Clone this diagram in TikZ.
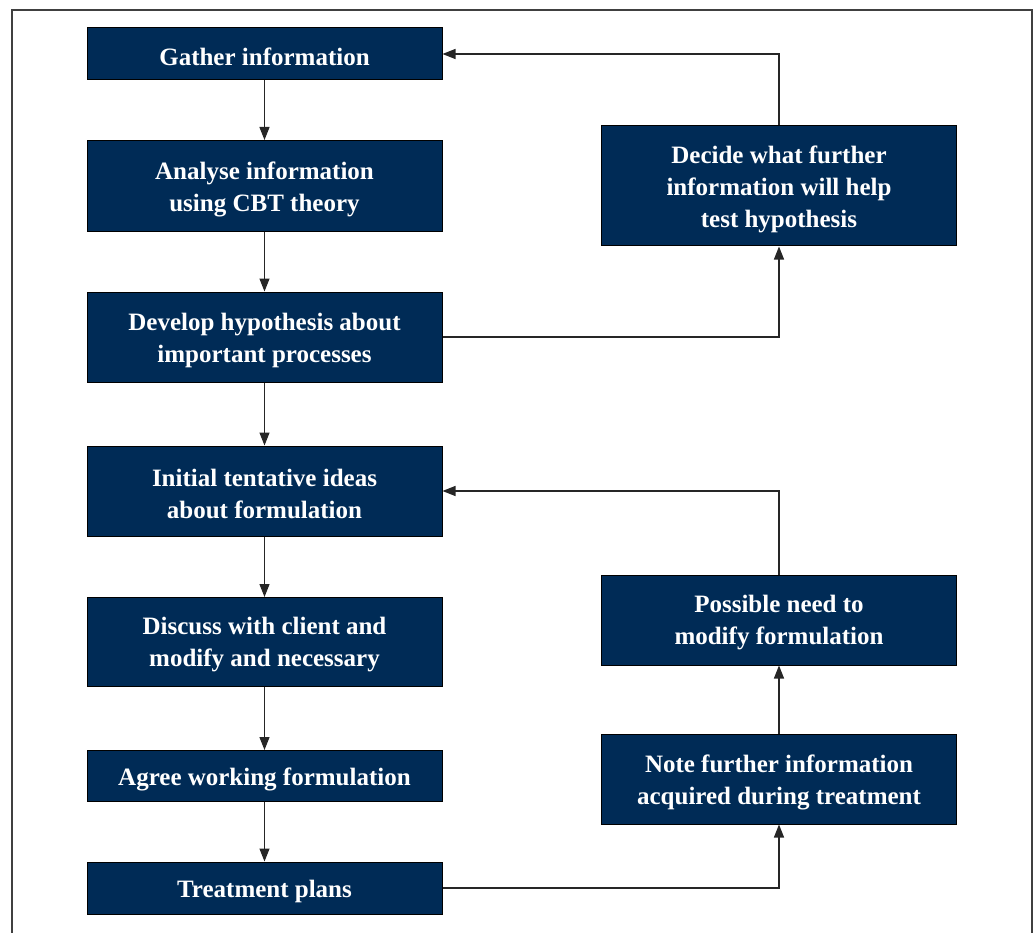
\documentclass[tikz,border=0pt]{standalone}
\usepackage{fontspec}
\setmainfont{Liberation Serif}
\usetikzlibrary{arrows.meta}
\definecolor{navy}{RGB}{0,43,86}
\begin{document}
\begin{tikzpicture}[x=1pt,y=-1pt,
 box/.style={draw=black,line width=1pt,fill=navy,inner sep=0pt,minimum width=355pt},
 txt/.style={text=white,font=\fontsize{25}{32}\selectfont\bfseries,align=center,inner sep=0pt},
 conn/.style={draw=black!85,line width=1.2pt,-{Triangle[length=13pt,width=10pt]}}]
\useasboundingbox (0,0) rectangle (1035,933);
\draw[black!75,line width=1.2pt] (12,933) -- (12,10) -- (1032,10) -- (1032,933);
\node[box,minimum height=52pt] (g) at (264.5,54) {};
\node[box,minimum height=91pt] (a) at (264.5,186) {};
\node[box,minimum height=90pt] (d) at (264.5,337) {};
\node[box,minimum height=90pt] (i) at (264.5,491) {};
\node[box,minimum height=89pt] (c) at (264.5,642) {};
\node[box,minimum height=51pt] (w) at (264.5,776) {};
\node[box,minimum height=52pt] (t) at (264.5,888) {};
\node[box,minimum height=120pt] (dec) at (779,186) {};
\node[box,minimum height=90pt] (p) at (779,620) {};
\node[box,minimum height=90pt] (n) at (779,779) {};
\node[txt] (gt) at ([yshift=-3pt]g.center) {Gather information};
\node[txt] (at) at ([yshift=-3pt]a.center) {Analyse information\\using CBT theory};
\node[txt] (dt) at ([yshift=-3pt]d.center) {Develop hypothesis about\\important processes};
\node[txt] (it) at ([yshift=-3pt]i.center) {Initial tentative ideas\\about formulation};
\node[txt] (ct) at ([yshift=-3pt]c.center) {Discuss with client and\\modify and necessary};
\node[txt] (wt) at ([yshift=-3pt]w.center) {Agree working formulation};
\node[txt] (tt) at ([yshift=-3pt]t.center) {Treatment plans};
\node[txt] (dect) at ([yshift=-3pt]dec.center) {Decide what further\\information will help\\test hypothesis};
\node[txt] (pt) at ([yshift=-3pt]p.center) {Possible need to\\modify formulation};
\node[txt] (nt) at ([yshift=-3pt]n.center) {Note further information\\acquired during treatment};
\draw[conn] (g) -- (a);
\draw[conn] (a) -- (d);
\draw[conn] (d) -- (i);
\draw[conn] (i) -- (c);
\draw[conn] (c) -- (w);
\draw[conn] (w) -- (t);
\draw[conn] (d.east) -| (dec.south);
\draw[conn] (dec.north) |- (g.east);
\draw[conn] (t.east) -| (n.south);
\draw[conn] (n) -- (p);
\draw[conn] (p.north) |- (i.east);
\end{tikzpicture}
\end{document}
